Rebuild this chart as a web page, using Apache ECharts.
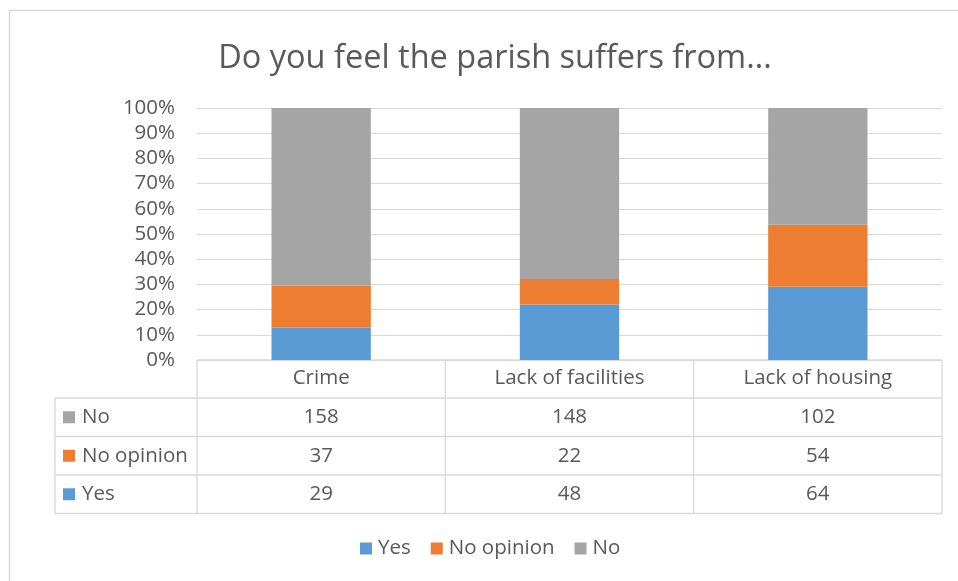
<!DOCTYPE html>
<html>
<head>
<meta charset="utf-8">
<script src="https://cdn.jsdelivr.net/npm/echarts@6/dist/echarts.min.js"></script>
<style>
  html, body { margin: 0; padding: 0; background: #fff; }
  #chart { width: 958px; height: 581px; }
</style>
</head>
<body>
<div id="chart"></div>
<script>
// Survey answers per topic
const categories = ['Crime', 'Lack of facilities', 'Lack of housing'];
const yesCounts = [29, 48, 64];
const noOpinionCounts = [37, 22, 54];
const noCounts = [158, 148, 102];
const seriesNames = ['Yes', 'No opinion', 'No'];
const seriesColors = ['#5B9BD5', '#ED7D31', '#A5A5A5'];

const FONT = '"Open Sans", "Noto Sans", sans-serif';
const FS = 20.5;
const TEXT = '#595959';
const LINE = '#D9D9D9';

const countsBySeries = [yesCounts, noOpinionCounts, noCounts];
const totals = categories.map((_, i) => yesCounts[i] + noOpinionCounts[i] + noCounts[i]);
const toShare = arr => arr.map((v, i) => v / totals[i] * 100);

const chart = echarts.init(document.getElementById('chart'), null, { renderer: 'canvas' });

const option = {
  backgroundColor: '#fff',
  animation: false,
  title: {
    text: 'Do you feel the parish suffers from...',
    left: 490, top: 37, textAlign: 'center',
    textStyle: { fontFamily: FONT, fontSize: 32.5, fontWeight: 'normal', color: TEXT }
  },
  legend: {
    data: seriesNames,
    bottom: 17, left: 355,
    icon: 'rect', itemWidth: 12, itemHeight: 12, itemGap: 20,
    textStyle: { fontFamily: FONT, fontSize: FS, color: TEXT, padding: [0, 0, 0, 1] }
  },
  grid: { left: 197, right: 16, top: 108, bottom: 221, containLabel: false },
  xAxis: {
    type: 'category', data: categories,
    axisLine: { show: false }, axisTick: { show: false },
    axisLabel: { margin: 8, fontFamily: FONT, fontSize: FS, color: TEXT }
  },
  yAxis: {
    type: 'value', min: 0, max: 100, interval: 10,
    axisLine: { show: false }, axisTick: { show: false },
    splitLine: { lineStyle: { color: LINE, width: 1 } },
    axisLabel: { margin: 22, fontFamily: FONT, fontSize: FS, color: TEXT, formatter: v => v + '%' }
  },
  series: seriesNames.map((name, k) => ({
    name, type: 'bar', stack: 'share', barWidth: '40%',
    itemStyle: { color: seriesColors[k] },
    data: toShare(countsBySeries[k])
  }))
};
chart.setOption(option);

// Data table under the plot: one row per series, listed No / No opinion / Yes
const centers = categories.map(c => chart.convertToPixel({ xAxisIndex: 0 }, c));
const half = (centers[1] - centers[0]) / 2;
const yBase = chart.convertToPixel({ yAxisIndex: 0 }, 0);
const tableLeft = 55;
const colEdges = [centers[0] - half].concat(centers.map(c => c + half));
const headerH = 38, rowH = 38.5;
const rowOrder = [2, 1, 0];
const tableBottom = yBase + headerH + rowH * rowOrder.length;

const g = [];
const line = (x1, y1, x2, y2) => g.push({
  type: 'line', shape: { x1, y1, x2, y2 }, style: { stroke: LINE, lineWidth: 1.3 }, silent: true
});
// header cell borders
line(colEdges[0], yBase, colEdges[3], yBase);
colEdges.forEach(x => line(x, yBase, x, tableBottom));
// row borders
for (let r = 0; r <= rowOrder.length; r++) {
  const y = yBase + headerH + r * rowH;
  line(tableLeft, y, colEdges[3], y);
}
line(tableLeft, yBase + headerH, tableLeft, tableBottom);

rowOrder.forEach((k, r) => {
  const cy = yBase + headerH + r * rowH + rowH / 2;
  g.push({ type: 'rect', shape: { x: 63, y: cy - 6, width: 12, height: 12 }, style: { fill: seriesColors[k] }, silent: true });
  g.push({ type: 'text', x: 82, y: cy, style: { text: seriesNames[k], fontFamily: FONT, fontSize: FS, fill: TEXT, textVerticalAlign: 'middle' }, silent: true });
  countsBySeries[k].forEach((v, i) => {
    g.push({ type: 'text', x: centers[i], y: cy, style: { text: String(v), fontFamily: FONT, fontSize: FS, fill: TEXT, textAlign: 'center', textVerticalAlign: 'middle' }, silent: true });
  });
});
// chart area border
g.push({ type: 'rect', shape: { x: 9.5, y: 10.5, width: 960, height: 600 }, style: { fill: 'none', stroke: '#D9D9D9', lineWidth: 1.5 }, silent: true, z: -1 });

chart.setOption({ graphic: g });
</script>
</body>
</html>
